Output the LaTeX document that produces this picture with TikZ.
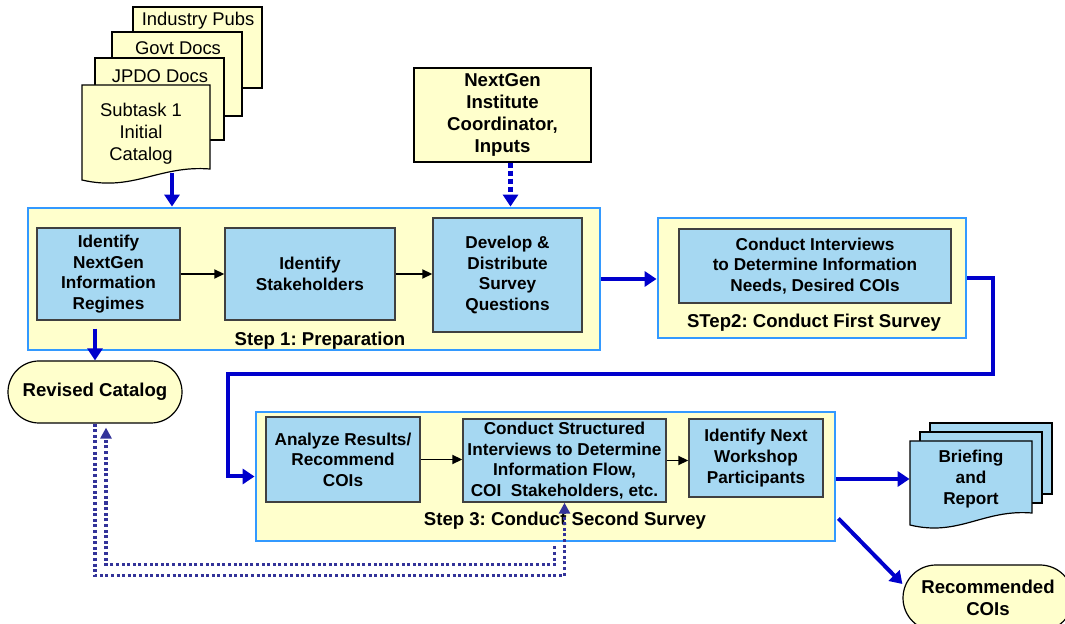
\documentclass[tikz,border=0pt]{standalone}
\usepackage{fontspec}
\setmainfont{Liberation Sans}
\frenchspacing
\usetikzlibrary{arrows.meta,calc,shapes.misc}

\definecolor{paleyellow}{RGB}{255,255,204}
\definecolor{skyfill}{RGB}{166,216,242}
\definecolor{stepblue}{RGB}{51,153,255}
\definecolor{flowblue}{RGB}{0,0,204}
\definecolor{dotblue}{RGB}{51,51,153}
\definecolor{boxgray}{RGB}{64,64,64}

\newcommand{\boxfont}{\fontsize{8.6}{10.3}\selectfont\bfseries}
\newcommand{\labelfont}{\fontsize{9.3}{11}\selectfont\bfseries}
\newcommand{\pagefont}{\fontsize{9.2}{11}\selectfont}

% page with a wavy foot: style, left, top, right, foot left, foot right
\newcommand{\wavypage}[6]{%
  \path[#1] (#2,#3) -- (#4,#3) -- (#4,#6)
    .. controls ({#4-0.4*(#4-#2)},{#6-4}) and ({#2+0.4*(#4-#2)},{#5+12}) .. (#2,#5) -- cycle;}

\begin{document}
\begin{tikzpicture}[x=0.5pt, y=-0.5pt,
    page/.style={draw=black, line width=0.6pt, fill=paleyellow},
    bluepage/.style={draw=black, line width=0.6pt, fill=skyfill},
    stepbox/.style={draw=stepblue, line width=1.4pt, fill=paleyellow, inner sep=0pt},
    taskbox/.style={draw=boxgray, line width=0.7pt, fill=skyfill, inner sep=0pt, align=center, font=\boxfont},
    notebox/.style={draw=black, line width=0.6pt, fill=paleyellow, inner sep=0pt, align=center, font=\labelfont},
    endbox/.style={rounded rectangle, draw=black, line width=0.6pt, fill=paleyellow, align=center, font=\labelfont, inner sep=0pt},
    flow/.style={draw=flowblue, line width=2pt, -{Triangle[length=6pt,width=7.5pt]}},
    thinflow/.style={draw=black, line width=0.9pt, -{Triangle[length=5pt,width=4.5pt]}},
    inputflow/.style={draw=flowblue, line width=2.4pt, dash pattern=on 2.5pt off 1.5pt, -{Triangle[length=6pt,width=7.5pt]}},
    backflow/.style={draw=dotblue, line width=1.7pt, dash pattern=on 1.5pt off 1.3pt, -{Triangle[length=5.5pt,width=5.5pt]}}]
  \useasboundingbox (0,0) rectangle (1065,624);

  % source documents
  \path[page] (133,7) rectangle (262,88);
  \path[page] (112,32) rectangle (242,116);
  \path[page] (95,58) rectangle (224,140);
  \wavypage{page}{82}{85}{210}{180}{169}
  \node[font=\pagefont] (pubs) at (198,21) {Industry Pubs};
  \node[font=\pagefont] (govt) at (178,48) {Govt Docs};
  \node[font=\pagefont] (jpdo) at (160,76) {JPDO Docs};
  \node[font=\pagefont, align=center] (catalog) at (141,134) {Subtask 1\\Initial\\Catalog};
  \coordinate (catfoot) at (172,173);

  \node[notebox, minimum width=88.5pt, minimum height=47pt] (inst) at (502.5,115) {NextGen\\Institute\\Coordinator,\\Inputs};

  % step 1
  \node[stepbox, minimum width=286pt, minimum height=71pt] (step1) at (314,279) {};
  \node[taskbox, minimum width=71.5pt, minimum height=46pt] (idreg) at (108.5,274) {Identify\\NextGen\\Information\\Regimes};
  \node[taskbox, minimum width=85pt, minimum height=46pt] (idstake) at (310,274) {Identify\\Stakeholders};
  \node[taskbox, minimum width=74.5pt, minimum height=57pt] (survey) at (507.5,275) {Develop \&\\Distribute\\Survey\\Questions};
  \node[font=\labelfont] (prep) at (320,341) {Step 1: Preparation};

  % step 2
  \node[stepbox, minimum width=154pt, minimum height=60pt] (step2) at (812,278) {};
  \node[taskbox, minimum width=136pt, minimum height=37pt] (interviews) at (815,266) {Conduct Interviews\\to Determine Information\\Needs, Desired COIs};
  \node[font=\labelfont] (firstlbl) at (814,323) {STep2: Conduct First Survey};

  % step 3
  \node[stepbox, minimum width=289.5pt, minimum height=64.5pt] (step3) at (545.5,476.5) {};
  \node[taskbox, minimum width=77pt, minimum height=42.5pt] (analyze) at (343,459.5) {Analyze Results/\\Recommend\\COIs};
  \node[taskbox, minimum width=101.5pt, minimum height=41.5pt] (structured) at (564.5,460.5) {Conduct Structured\\Interviews to Determine\\Information Flow,\\COI\ \ Stakeholders, etc.};
  \node[taskbox, minimum width=67pt, minimum height=39pt] (nextws) at (756,458) {Identify Next\\Workshop\\Participants};
  \node[font=\labelfont] (secondlbl) at (565,521) {Step 3: Conduct Second Survey};

  % outputs
  \path[bluepage] (930,423) rectangle (1052,494);
  \path[bluepage] (920,432) rectangle (1042,503);
  \wavypage{bluepage}{910}{441}{1032}{525}{513}
  \node[font=\boxfont, align=center, minimum width=61pt] (brief) at (971,479) {Briefing\\and\\Report};
  \node[endbox, minimum width=87pt, minimum height=31pt] (revised) at (95,392) {Revised Catalog};
  \node[endbox, minimum width=85pt, minimum height=33pt] (recommended) at (988,598) {Recommended\\COIs};

  % connectors
  \draw[flow] (catfoot) -- (catfoot |- step1.north);
  \coordinate (instfoot) at ($(inst.south)+(8,0)$);
  \draw[inputflow] (instfoot) -- (instfoot |- step1.north);
  \draw[thinflow] (idreg.east) -- (idreg.east -| idstake.west);
  \draw[thinflow] (idstake.east) -- (idstake.east -| survey.west);
  \draw[thinflow] (analyze.east) -- (analyze.east -| structured.west);
  \draw[thinflow] (structured.east) -- (structured.east -| nextws.west);
  \draw[flow] (step1.east) -- (step1.east -| step2.west);
  \coordinate (bendA) at (993,374);
  \coordinate (bendB) at (228,374);
  \draw[flow] (step2.east) -| (bendA) -- (bendB) |- (step3.west);
  \coordinate (regfoot) at ($(revised.north |- idreg.south)+(0,8)$);
  \draw[flow] (regfoot) -- (revised.north);
  \draw[flow] (step3.east |- brief.west) -- (brief.west);
  \coordinate (step3out) at ($(step3.east)+(2,42)$);
  \coordinate (recin) at ($(recommended.west)+(0,-14)$);
  \draw[flow] (step3out) -- (recin);

  % catalog feedback
  \draw[backflow] (revised.south) -- ++(0,152) -| (structured.south);
  \coordinate (backstart) at ($(structured.south |- step3.south)+(-10,4)$);
  \coordinate (backend) at ($(revised.south)+(11,4)$);
  \draw[backflow] (backstart) -- ++(0,18) -| (backend);
\end{tikzpicture}
\end{document}
